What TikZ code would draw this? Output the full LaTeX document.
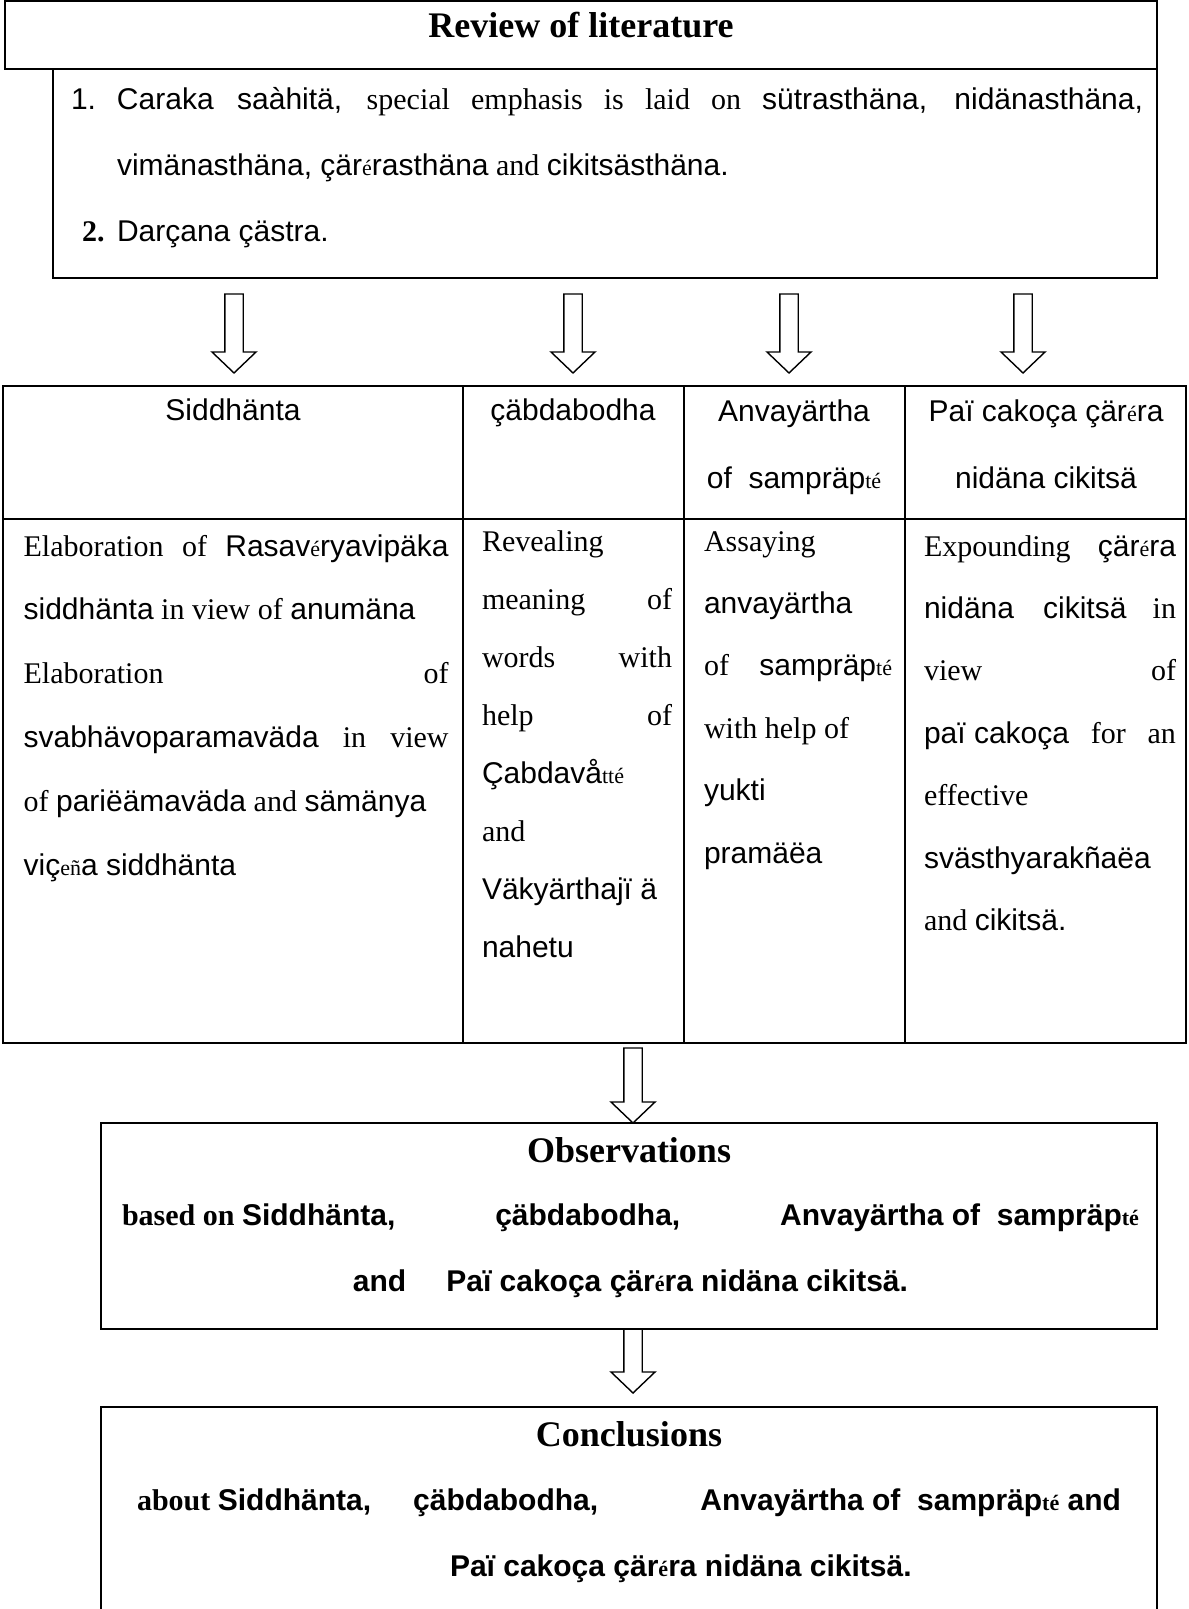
\documentclass[tikz,border=0pt]{standalone}
\usepackage{fontspec}
\setmainfont{Liberation Serif}
\setsansfont{Liberation Sans}
\usepackage{tikz}
\usetikzlibrary{calc}
\tikzset{hollow/.style = {to path={let \p1=(\tikztostart), \p2=(\tikztotarget) in
  (\x1-4.6pt,\y1) -- (\x1+4.6pt,\y1) -- (\x1+4.6pt,\y2+10.5pt) -- (\x1+11pt,\y2+10.5pt)
  -- (\x2,\y2) -- (\x1-11pt,\y2+10.5pt) -- (\x1-4.6pt,\y2+10.5pt) -- cycle}}}
\newcommand{\sk}[1]{\textsf{#1}}
\newcommand{\smc}[1]{{\rmfamily\fontsize{11}{11}\selectfont #1}}

\begin{document}
\tolerance=10000 \hbadness=10000 \hyphenpenalty=10000
\begin{tikzpicture}[x=0.5pt,y=-0.5pt,line width=1pt,
    txt/.style={inner sep=0pt,font=\fontsize{15}{31}\selectfont},
    cell/.style={txt,anchor=base west},
    hd/.style={inner sep=0pt,anchor=base,align=center,font=\fontsize{15}{33.5}\selectfont\sffamily},
    head/.style={inner sep=0pt,anchor=base,font=\fontsize{18}{20}\selectfont\bfseries}]
  \useasboundingbox (0,0) rectangle (1188,1609);

  % review of literature
  \draw (5,1) rectangle (1157,69);
  \draw (53,69) rectangle (1157,278);
  \node[head] (title) at (581,38) {Review of literature};
  \node[cell,align=justify,text width=536pt,font=\fontsize{15}{33}\selectfont] (item1) at (70,110)
    {\makebox[23pt][l]{\sk{1.}}\sk{Caraka saàhitä,} special emphasis is laid on \sk{sütrasthäna, nidänasthäna,}\linebreak
     \hspace*{23pt}\sk{vimänasthäna, çär\smc{é}rasthäna} and \sk{cikitsästhäna.}};
  \node[cell] (item2) at (81,242) {\makebox[17.5pt][l]{\textbf{2.}}\sk{Darçana çästra.}};

  \foreach \x [count=\i] in {234,573,789,1023} {
    \coordinate (s\i) at (\x,294);
    \coordinate (e\i) at (\x,373);
    \draw[line width=0.7pt] (s\i) to[hollow] (e\i);
  }

  % table
  \draw (3,386) rectangle (1186,1043);
  \draw (3,519) -- (1186,519);
  \foreach \x in {463,684,905}
    \draw (\x,386) -- (\x,1043);

  % two-line headers sit on their last line
  \node[hd] (h1) at (233,421) {Siddhänta};
  \node[hd] (h2) at (573,421) {çäbdabodha};
  \node[hd] (h3) at (794,488) {Anvayärtha\\of\ \ sampräp\smc{té}};
  \node[hd] (h4) at (1046,488) {Paï cakoça çär\smc{é}ra\\nidäna cikitsä};

  \node[cell,align=justify,text width=212.5pt,font=\fontsize{15}{31.9}\selectfont] (c1) at (22.6,556)
    {Elaboration of \sk{Rasav\smc{é}ryavipäka}\linebreak
     \sk{siddhänta} in view of \sk{anumäna}\\
     Elaboration of\linebreak
     \sk{svabhävoparamaväda} in view\linebreak
     of \sk{pariëämaväda} and \sk{sämänya}\\
     \sk{viç\smc{eñ}a siddhänta}};
  \node[cell,align=justify,text width=95pt,font=\fontsize{15}{29}\selectfont] (c2) at (481,551)
    {Revealing\\
     meaning of\linebreak
     words with\linebreak
     help of\linebreak
     \sk{Çabdavå\smc{tté}}\\
     and\\
     \sk{Väkyärthajï ä}\\
     \sk{nahetu}};
  \node[cell,align=justify,text width=94pt,font=\fontsize{15}{31.2}\selectfont] (c3) at (703,551)
    {Assaying\\
     \sk{anvayärtha}\\
     of \sk{sampräp\smc{té}}\linebreak
     with help of\\
     \sk{yukti}\\
     \sk{pramäëa}};
  \node[cell,align=justify,text width=126pt,font=\fontsize{15}{31.2}\selectfont] (c4) at (923,556)
    {Expounding \sk{çär\smc{é}ra}\linebreak
     \sk{nidäna cikitsä} in\linebreak
     view of\linebreak
     \mbox{\sk{paï cakoça}} for an\linebreak
     effective\\
     \sk{svästhyarakñaëa}\\
     and \sk{cikitsä.}};

  \coordinate (s5) at (633,1048);
  \coordinate (e5) at (633,1123);
  \draw[line width=0.7pt] (s5) to[hollow] (e5);

  % observations
  \draw (101,1123) rectangle (1157,1329);
  \node[head] (obs) at (629,1162) {Observations};
  \node[cell,align=justify,text width=508.5pt,font=\fontsize{15}{33}\selectfont\bfseries] (obstext) at (121,1225)
    {based on \sk{Siddhänta,}\hfill\sk{çäbdabodha,}\hfill\sk{Anvayärtha of\ \ sampräp\smc{té}}\\
     \hspace*{\fill}\sk{and}\hspace{20pt}\sk{Paï cakoça çär\smc{é}ra nidäna cikitsä.}\hspace*{\fill}\null};

  \coordinate (s6) at (633,1329);
  \coordinate (e6) at (633,1393);
  \draw[line width=0.7pt] (s6) to[hollow] (e6);

  % conclusions
  \draw (101,1609) |- (1157,1407) -- (1157,1609);
  \node[head] (conc) at (629,1446) {Conclusions};
  \node[cell,align=justify,text width=492pt,font=\fontsize{15}{33}\selectfont\bfseries] (conctext) at (136,1510)
    {about \sk{Siddhänta,}\hspace{21pt}\sk{çäbdabodha,}\hfill\sk{Anvayärtha of\ \ sampräp\smc{té} and}\\
     \hspace*{156.5pt}\sk{Paï cakoça çär\smc{é}ra nidäna cikitsä.}};
\end{tikzpicture}
\end{document}
